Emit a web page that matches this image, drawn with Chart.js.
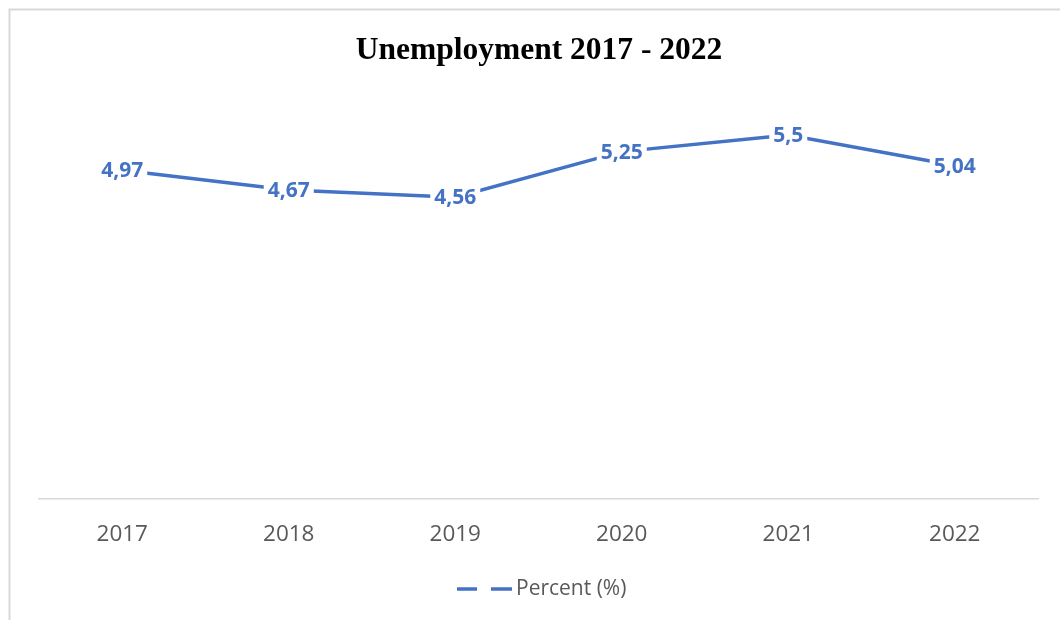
<!DOCTYPE html>
<html>
<head>
<meta charset="utf-8">
<title>Unemployment 2017 - 2022</title>
<script src="https://cdn.jsdelivr.net/npm/chart.js@4.4.1/dist/chart.umd.min.js"></script>
<style>
  html, body { margin: 0; padding: 0; background: #fff; }
  #wrap { width: 1060px; height: 620px; }
</style>
</head>
<body>
<div id="wrap"><canvas id="unemploymentChart" width="1060" height="620"></canvas></div>
<script>
const years = ["2017", "2018", "2019", "2020", "2021", "2022"];
const percent = [4.97, 4.67, 4.56, 5.25, 5.5, 5.04];
const chartTitle = "Unemployment 2017 - 2022";
const seriesName = "Percent (%)";

const BLUE = "#4472C4";
const GREY_TEXT = "#595959";
const LABEL_FONT = "'Open Sans', 'Noto Sans', sans-serif";

// frame round the whole chart, title on top, legend with the split line icon
const decorations = {
  id: "decorations",
  beforeDraw(chart) {
    const c = chart.ctx;
    c.save();
    c.fillStyle = "#fff";
    c.fillRect(0, 0, chart.width, chart.height);
    c.strokeStyle = "#d9d9d9";
    c.lineWidth = 2;
    c.strokeRect(9.5, 9.5, chart.width + 40, chart.height + 40);
    c.restore();
  },
  afterDraw(chart) {
    const c = chart.ctx;
    c.save();
    c.fillStyle = "#000";
    c.font = "bold 31.5px 'Liberation Serif', 'Times New Roman', serif";
    c.textAlign = "center";
    c.textBaseline = "middle";
    c.fillText(chartTitle, 539, 51);

    const ds = chart.data.datasets[0];
    const ly = 589;
    c.strokeStyle = ds.borderColor;
    c.lineWidth = 3.5;
    c.beginPath();
    c.moveTo(457, ly); c.lineTo(477, ly);
    c.moveTo(491, ly); c.lineTo(512, ly);
    c.stroke();
    c.fillStyle = GREY_TEXT;
    c.font = "21px " + LABEL_FONT;
    c.textAlign = "left";
    c.fillText(ds.label, 516, ly);
    c.restore();
  }
};

// value labels sitting on each point, with a white box that cuts the line
const valueLabels = {
  id: "valueLabels",
  afterDatasetsDraw(chart) {
    const c = chart.ctx;
    const meta = chart.getDatasetMeta(0);
    const values = chart.data.datasets[0].data;
    c.save();
    c.font = "bold 21px " + LABEL_FONT;
    c.textAlign = "center";
    c.textBaseline = "middle";
    meta.data.forEach((pt, i) => {
      const txt = String(values[i]).replace(".", ",");
      const w = c.measureText(txt).width;
      c.fillStyle = "#fff";
      c.fillRect(pt.x - w / 2 - 4, pt.y - 13, w + 8, 26);
      c.fillStyle = BLUE;
      c.fillText(txt, pt.x, pt.y + 1);
    });
    c.restore();
  }
};

new Chart(document.getElementById("unemploymentChart"), {
  type: "line",
  data: {
    labels: years,
    datasets: [{
      label: seriesName,
      data: percent,
      borderColor: BLUE,
      backgroundColor: BLUE,
      borderWidth: 3.5,
      pointRadius: 0,
      tension: 0,
      fill: false
    }]
  },
  options: {
    responsive: false,
    animation: false,
    devicePixelRatio: 1,
    layout: { padding: { left: 39, right: 22, top: 102, bottom: 50 } },
    plugins: {
      legend: { display: false },
      title: { display: false },
      tooltip: { enabled: false }
    },
    scales: {
      x: {
        offset: true,
        grid: { display: false, drawTicks: false },
        border: { display: true, color: "#d9d9d9", width: 1.5 },
        ticks: {
          color: GREY_TEXT,
          padding: 22,
          font: { family: LABEL_FONT, size: 22.5 }
        }
      },
      y: {
        display: false,
        min: 0,
        max: 6
      }
    }
  },
  plugins: [decorations, valueLabels]
});
</script>
</body>
</html>
